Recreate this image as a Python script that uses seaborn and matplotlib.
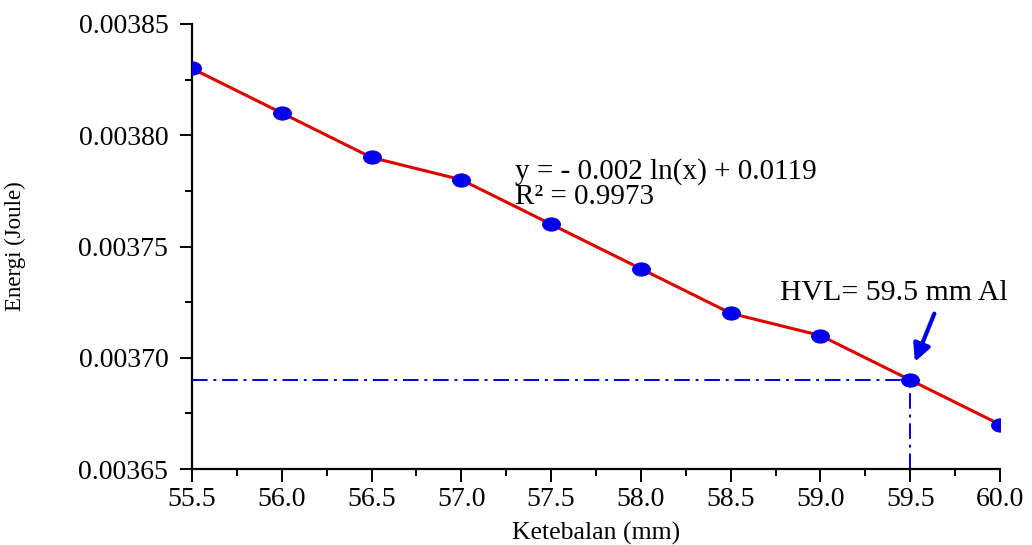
import matplotlib
matplotlib.use('Agg')
import matplotlib.pyplot as plt
import seaborn as sns
from matplotlib.markers import MarkerStyle
from matplotlib.transforms import Affine2D
from matplotlib.ticker import MultipleLocator, FormatStrFormatter

# data
ketebalan = [55.5, 56.0, 56.5, 57.0, 57.5, 58.0, 58.5, 59.0, 59.5, 60.0]
energi = [0.00383, 0.00381, 0.00379, 0.00378, 0.00376, 0.00374, 0.00372, 0.00371, 0.00369, 0.00367]
hvl_x = 59.5
hvl_y = 0.00369
eq_text = 'y = - 0.002 ln(x) + 0.0119\nR² = 0.9973'
hvl_text = 'HVL= 59.5 mm Al'

sns.set_style('ticks')
plt.rcParams['font.family'] = ['Liberation Serif', 'DejaVu Serif']
plt.rcParams['text.color'] = 'black'
plt.rcParams['axes.labelcolor'] = 'black'

fig = plt.figure(figsize=(10.32, 5.45), dpi=100)
ax = fig.add_axes([0.186, 0.1394, 0.783, 0.8166])

# HVL guide lines
ax.plot([ketebalan[0], hvl_x], [hvl_y, hvl_y], color='#0000e0', lw=1.4, ls=(0, (8, 3, 1.5, 3)), zorder=1)
ax.plot([hvl_x, hvl_x], [0.00365, hvl_y], color='#0000e0', lw=1.4, ls=(0, (8, 3, 1.5, 3)), zorder=1)

oval = MarkerStyle('o', transform=Affine2D().scale(1.35, 1.0))
sns.lineplot(x=ketebalan, y=energi, ax=ax, color='#e00000', lw=2.2,
             marker=oval, markersize=9.5, markerfacecolor='#0000ee',
             markeredgecolor='#0000ee', zorder=3)

ax.set_xlim(55.5, 60.0)
ax.set_ylim(0.00365, 0.00385)
ax.xaxis.set_major_locator(MultipleLocator(0.5))
ax.xaxis.set_minor_locator(MultipleLocator(0.25))
ax.yaxis.set_major_locator(MultipleLocator(0.00005))
ax.yaxis.set_minor_locator(MultipleLocator(0.000025))
ax.xaxis.set_major_formatter(FormatStrFormatter('%.1f'))
ax.yaxis.set_major_formatter(FormatStrFormatter('%.5f'))
ax.tick_params(which='major', direction='out', length=9, width=1.4, labelsize=20, colors='black')
ax.tick_params(axis='y', which='major', pad=8)
ax.tick_params(axis='x', which='major', pad=4)
ax.tick_params(which='minor', direction='out', length=5, width=1.4, colors='black')
for s in ['left', 'bottom']:
    ax.spines[s].set_linewidth(1.6)
    ax.spines[s].set_color('black')
sns.despine(ax=ax)

ax.set_xlabel('Ketebalan (mm)', fontsize=18.5)
ax.set_ylabel('Energi (Joule)', fontsize=16.5)
ax.xaxis.set_label_coords(0.5, -0.118)
ax.yaxis.set_label_coords(-0.205, 0.5)

ax.text(57.30, 0.003778, eq_text, fontsize=21, va='center', ha='left', linespacing=0.92)
ax.text(58.775, 0.003729, hvl_text, fontsize=21.5, va='center', ha='left')
ax.annotate('', xy=(59.52, 0.003697), xytext=(59.64, 0.003721),
            arrowprops=dict(arrowstyle='-|>', color='#0000ee', lw=3, mutation_scale=26))

fig.savefig('out.png', dpi=100)
